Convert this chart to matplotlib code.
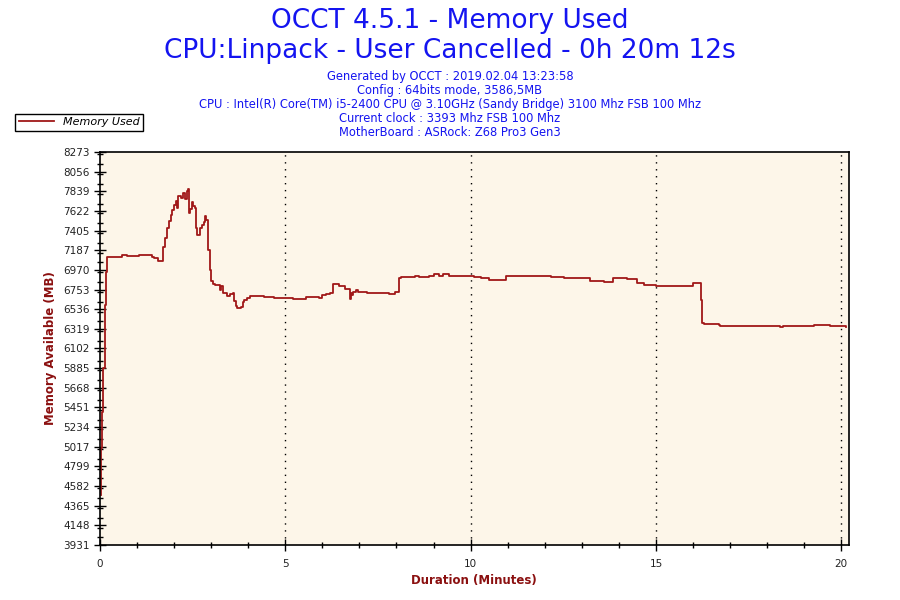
import matplotlib
matplotlib.use('Agg')
import matplotlib.pyplot as plt
from matplotlib.ticker import MultipleLocator
import numpy as np

minutes = [0.02, 0.03, 0.05, 0.09, 0.13, 0.15, 0.17, 0.20, 0.59, 0.72, 1.05,
           1.40, 1.45, 1.56, 1.70, 1.75, 1.80, 1.86, 1.91, 1.94, 1.99, 2.05,
           2.07, 2.10, 2.15, 2.18, 2.23, 2.29, 2.34, 2.37, 2.40, 2.42, 2.48,
           2.52, 2.56, 2.58, 2.61, 2.69, 2.75, 2.80, 2.83, 2.86, 2.91, 2.96,
           2.99, 3.04, 3.10, 3.23, 3.28, 3.31, 3.42, 3.50, 3.58, 3.63, 3.66,
           3.71, 3.80, 3.85, 3.90, 3.96, 4.04, 4.44, 4.71, 5.01, 5.22, 5.57,
           5.84, 5.92, 5.98, 6.11, 6.22, 6.30, 6.46, 6.62, 6.76, 6.78, 6.81,
           6.84, 6.92, 6.95, 7.08, 7.21, 7.48, 7.81, 7.97, 8.08, 8.13, 8.51,
           8.62, 8.88, 9.02, 9.15, 9.26, 9.42, 10.09, 10.28, 10.50, 10.96,
           11.31, 11.71, 12.17, 12.52, 12.71, 13.22, 13.59, 13.84, 14.02,
           14.21, 14.48, 14.67, 14.99, 15.99, 16.21, 16.24, 16.29, 16.69,
           16.74, 18.36, 18.44, 19.27, 19.70, 20.13]
memory = [4484, 5003, 5400, 5887, 6306, 6583, 6947, 7113, 7135, 7120, 7135,
          7113, 7100, 7069, 7223, 7323, 7433, 7511, 7577, 7632, 7687, 7732,
          7650, 7787, 7787, 7760, 7820, 7754, 7842, 7864, 7599, 7643, 7721,
          7680, 7654, 7433, 7356, 7433, 7466, 7500, 7566, 7522, 7190, 6969,
          6848, 6815, 6804, 6750, 6793, 6715, 6682, 6704, 6715, 6627, 6572,
          6550, 6561, 6616, 6638, 6660, 6682, 6671, 6660, 6657, 6649, 6671,
          6671, 6660, 6693, 6704, 6719, 6815, 6795, 6763, 6649, 6715, 6690,
          6726, 6748, 6725, 6730, 6719, 6710, 6704, 6730, 6878, 6895, 6906,
          6892, 6903, 6920, 6906, 6920, 6903, 6892, 6878, 6862, 6906,
          6903, 6900, 6892, 6878, 6880, 6848, 6837, 6884, 6878,
          6870, 6826, 6800, 6793, 6822, 6638, 6384, 6369, 6358,
          6347, 6340, 6350, 6362, 6347, 6340]

y_ticks = [3931, 4148, 4365, 4582, 4799, 5017, 5234, 5451, 5668, 5885, 6102,
           6319, 6536, 6753, 6970, 7187, 7405, 7622, 7839, 8056, 8273]
x_ticks = [0, 5, 10, 15, 20]

title = 'OCCT 4.5.1 - Memory Used\nCPU:Linpack - User Cancelled - 0h 20m 12s'
info = ['Generated by OCCT : 2019.02.04 13:23:58',
        'Config : 64bits mode, 3586,5MB',
        'CPU : Intel(R) Core(TM) i5-2400 CPU @ 3.10GHz (Sandy Bridge) 3100 Mhz FSB 100 Mhz',
        'Current clock : 3393 Mhz FSB 100 Mhz',
        'MotherBoard : ASRock: Z68 Pro3 Gen3']

blue = '#1414f0'
red = '#a01818'
label_red = '#8b1010'

fig = plt.figure(figsize=(9, 6), dpi=100)
ax = fig.add_axes([0.111, 0.0917, 0.832, 0.655])
ax.set_facecolor('#fdf6e9')

line, = ax.plot(minutes, memory, color=red, lw=1.3, drawstyle='steps-post',
                label='Memory Used')

ax.set_xlim(0, 20.2)
ax.set_ylim(y_ticks[0], y_ticks[-1])
ax.set_yticks(y_ticks)
ax.set_xticks(x_ticks)
ax.yaxis.set_minor_locator(MultipleLocator((y_ticks[1] - y_ticks[0]) / 2))
ax.xaxis.set_minor_locator(MultipleLocator(1))
ax.tick_params(axis='both', which='major', direction='inout', length=8,
               width=1, labelsize=7.5, labelcolor='#222222')
ax.tick_params(axis='both', which='minor', direction='inout', length=5, width=1)
ax.tick_params(axis='x', pad=6)
for s in ax.spines.values():
    s.set_linewidth(1.2)

for x in x_ticks[1:]:
    ax.axvline(x, color='black', lw=1, ls=(0, (1, 4)))

ax.set_xlabel('Duration (Minutes)', color=label_red, fontweight='bold',
              fontsize=8.5, labelpad=4)
ax.set_ylabel('Memory Available (MB)', color=label_red, fontweight='bold',
              fontsize=8.5, labelpad=4)

fig.text(0.5, 0.965, title.split('\n')[0], ha='center', va='center',
         color=blue, fontsize=19)
fig.text(0.5, 0.915, title.split('\n')[1], ha='center', va='center',
         color=blue, fontsize=19)
for i, s in enumerate(info):
    fig.text(0.5, 0.873 - i * 0.0233, s, ha='center', va='center',
             color=blue, fontsize=8.3)

leg = fig.legend(handles=[line], loc='upper left',
                 bbox_to_anchor=(0.017, 0.81), frameon=True, fancybox=False,
                 prop={'style': 'italic', 'size': 8}, handlelength=3.2,
                 borderpad=0.3, borderaxespad=0)
leg.get_frame().set_edgecolor('black')
leg.get_frame().set_linewidth(1)
leg.get_frame().set_alpha(1)

fig.savefig('out.png', dpi=100)
